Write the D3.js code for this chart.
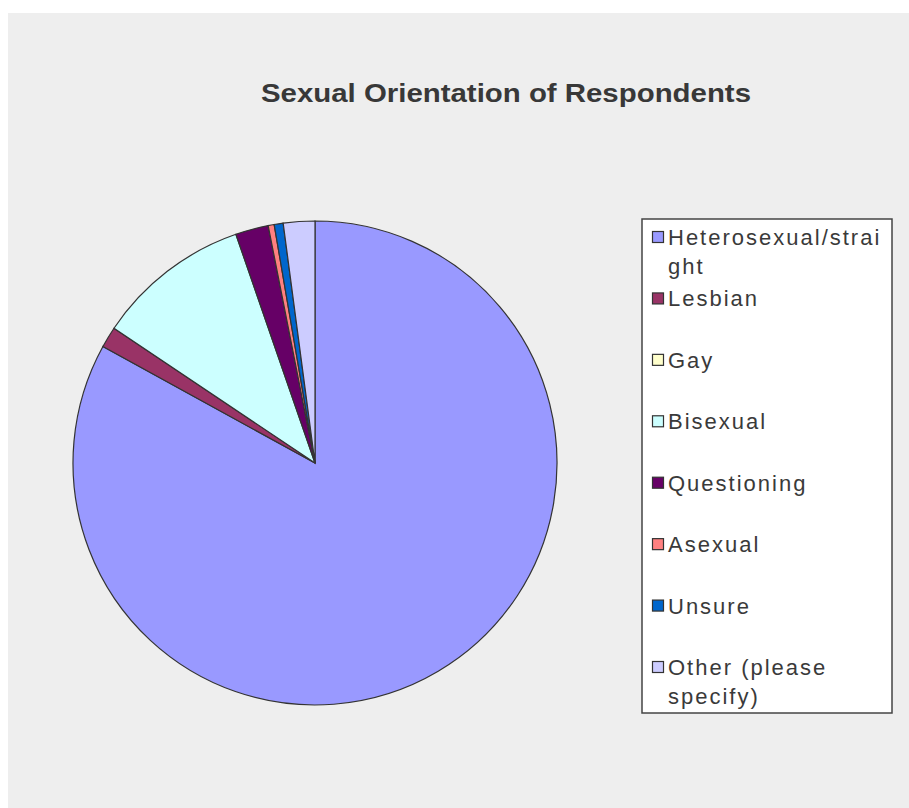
<!DOCTYPE html>
<html lang="en">
<head>
  <meta charset="UTF-8">
  <title>Sexual Orientation of Respondents</title>
  <script src="https://d3js.org/d3.v7.min.js"></script>
  <style>
    body { margin: 0; background: #ffffff; }
    svg { display: block; }
    .slice { stroke: #333333; stroke-width: 1.2px; }
    .legend text { font-family: "Liberation Sans", Arial, sans-serif; font-size: 22px; fill: #3a3a3a; letter-spacing: 2px; }
  </style>
</head>
<body>
  <svg width="909" height="808"></svg>
  <script>
    // categories, shares (percent), colours
    const categories = ["Heterosexual/straight", "Lesbian", "Gay", "Bisexual", "Questioning", "Asexual", "Unsure", "Other (please specify)"];
    const values = [83.0, 1.4, 0, 10.3, 2.2, 0.4, 0.6, 2.1];
    const colors = ["#9999FF", "#993366", "#FFFFCC", "#CCFFFF", "#660066", "#FF8080", "#0066CC", "#CCCCFF"];
    // legend labels as wrapped in the picture
    const legendLines = [["Heterosexual/strai", "ght"], ["Lesbian"], ["Gay"], ["Bisexual"], ["Questioning"], ["Asexual"], ["Unsure"], ["Other (please", "specify)"]];

    const svg = d3.select("svg");

    // chart area background
    svg.append("rect")
      .attr("x", 8).attr("y", 13)
      .attr("width", 901).attr("height", 795)
      .attr("fill", "#eeeeee");

    svg.append("text")
      .attr("x", 506).attr("y", 102)
      .attr("text-anchor", "middle")
      .attr("font-family", "Liberation Sans, Arial, sans-serif")
      .attr("font-size", 26)
      .attr("font-weight", "bold")
      .attr("fill", "#383838")
      .attr("textLength", 490)
      .attr("lengthAdjust", "spacingAndGlyphs")
      .text("Sexual Orientation of Respondents");

    const data = categories.map((c, i) => ({ name: c, value: values[i], color: colors[i] }));

    const pie = d3.pie().sort(null).value(d => d.value);
    const arc = d3.arc().innerRadius(0).outerRadius(242);

    const g = svg.append("g").attr("transform", "translate(315,463)");
    g.selectAll("path")
      .data(pie(data).filter(d => d.data.value > 0))
      .enter()
      .append("path")
      .attr("class", "slice")
      .attr("d", arc)
      .attr("fill", d => d.data.color);

    // legend
    const legend = svg.append("g").attr("class", "legend");
    legend.append("rect")
      .attr("x", 642).attr("y", 219)
      .attr("width", 250).attr("height", 494)
      .attr("fill", "#ffffff")
      .attr("stroke", "#444444")
      .attr("stroke-width", 1.5);

    const rowY = d3.scaleLinear().domain([0, categories.length - 1]).range([237, 667]);

    const item = legend.selectAll("g.item")
      .data(data)
      .enter()
      .append("g")
      .attr("class", "item")
      .attr("transform", (d, i) => `translate(0,${rowY(i)})`);

    item.append("rect")
      .attr("x", 652.5).attr("y", -5.5)
      .attr("width", 11).attr("height", 11)
      .attr("fill", d => d.color)
      .attr("stroke", "#333333")
      .attr("stroke-width", 1.2);

    item.append("text")
      .attr("x", 668)
      .attr("y", 8)
      .each(function (d, i) {
        const t = d3.select(this);
        legendLines[i].forEach((line, j) => {
          t.append("tspan")
            .attr("x", 668)
            .attr("dy", j === 0 ? 0 : 29)
            .text(line);
        });
      });
  </script>
</body>
</html>
